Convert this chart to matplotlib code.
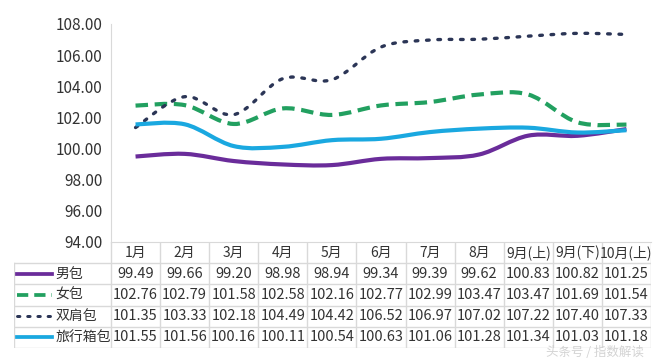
import matplotlib.pyplot as plt
from matplotlib.path import Path
from matplotlib.patches import PathPatch
import numpy as np

plt.rcParams['font.family'] = ['Noto Sans CJK SC', 'DejaVu Sans']

months = ['1月', '2月', '3月', '4月', '5月', '6月', '7月', '8月', '9月(上)', '9月(下)', '10月(上)']
men = [99.49, 99.66, 99.20, 98.98, 98.94, 99.34, 99.39, 99.62, 100.83, 100.82, 101.25]
women = [102.76, 102.79, 101.58, 102.58, 102.16, 102.77, 102.99, 103.47, 103.47, 101.69, 101.54]
backpack = [101.35, 103.33, 102.18, 104.49, 104.42, 106.52, 106.97, 107.02, 107.22, 107.40, 107.33]
luggage = [101.55, 101.56, 100.16, 100.11, 100.54, 100.63, 101.06, 101.28, 101.34, 101.03, 101.18]

names = ['男包', '女包', '双肩包', '旅行箱包']
series = [men, women, backpack, luggage]
colors = ['#6A2C9A', '#22A060', '#2B3556', '#1AA8E0']
styles = [dict(ls='-', lw=3), dict(ls=(0, (3, 1.6)), lw=3), dict(ls=(0, (0.8, 2.6)), lw=2.4,
                                                                dash_capstyle='round'),
          dict(ls='-', lw=3)]


def smooth_path(x, y, t=0.5):
    # excel-like smoothing: bezier with catmull-rom style control points
    x = np.asarray(x, float)
    y = np.asarray(y, float)
    verts = [(x[0], y[0])]
    codes = [Path.MOVETO]
    n = len(x)
    for i in range(n - 1):
        p0 = (x[max(i - 1, 0)], y[max(i - 1, 0)])
        p1 = (x[i], y[i])
        p2 = (x[i + 1], y[i + 1])
        p3 = (x[min(i + 2, n - 1)], y[min(i + 2, n - 1)])
        c1 = (p1[0] + (p2[0] - p0[0]) * t / 3, p1[1] + (p2[1] - p0[1]) * t / 3)
        c2 = (p2[0] - (p3[0] - p1[0]) * t / 3, p2[1] - (p3[1] - p1[1]) * t / 3)
        verts += [c1, c2, p2]
        codes += [Path.CURVE4] * 3
    return Path(verts, codes)


fig = plt.figure(figsize=(6.6, 3.6), dpi=100)
W, H = 660, 360
x0, x1 = 111, 651
ax = fig.add_axes([x0 / W, 1 - 242 / H, (x1 - x0) / W, (242 - 24) / H])

xs = np.arange(len(months))
for s, c, st in zip(series, colors, styles):
    p = PathPatch(smooth_path(xs, s), fill=False, edgecolor=c, lw=st['lw'], ls=st['ls'],
                  capstyle=st.get('dash_capstyle', 'butt'))
    ax.add_patch(p)

ax.set_xlim(-0.5, len(months) - 0.5)
ax.set_ylim(94, 108)
ax.set_yticks(np.arange(94, 108.1, 2))
ax.set_yticklabels([f'{v:.2f}' for v in np.arange(94, 108.1, 2)], fontsize=11, color='#333333')
ax.set_xticks([])
for sp in ['top', 'right']:
    ax.spines[sp].set_visible(False)
ax.spines['left'].set_color('#D9D9D9')
ax.spines['bottom'].set_color('#D9D9D9')
ax.tick_params(axis='y', length=0, pad=6)

# data table below the plot
unit = (x1 - x0) / len(months)
tleft = 14
ext = (x0 - tleft) / unit
tax = fig.add_axes([tleft / W, 1 - 348 / H, (x1 - tleft) / W, (348 - 242) / H])
tax.set_xlim(-0.5 - ext, len(months) - 0.5)
tax.set_ylim(5, 0)
tax.axis('off')
grid = '#D9D9D9'
for i in range(len(months) + 1):
    tax.plot([i - 0.5, i - 0.5], [0, 5], color=grid, lw=1)
tax.plot([-0.5 - ext, -0.5 - ext], [1, 5], color=grid, lw=1)
for r in range(1, 6):
    tax.plot([-0.5 - ext, len(months) - 0.5], [r, r], color=grid, lw=1)
for i, m in enumerate(months):
    tax.text(i, 0.52, m, ha='center', va='center', fontsize=10, color='#333333')
lx = -0.5 - ext
for r, (nm, s, c, st) in enumerate(zip(names, series, colors, styles)):
    yy = r + 1.5
    tax.plot([lx + 0.07, lx + 0.78], [yy, yy], color=c, lw=st['lw'] * 0.9, ls=st['ls'],
             dash_capstyle=st.get('dash_capstyle', 'butt'))
    tax.text(lx + 0.84, yy, nm, ha='left', va='center', fontsize=10, color='#333333')
    for i, v in enumerate(s):
        tax.text(i, yy, f'{v:.2f}', ha='center', va='center', fontsize=10.5, color='#333333')

fig.text(0.975, 1 - 352 / H, '头条号 / 指数解读', ha='right', va='center', fontsize=9,
         color='#C8C8C8', alpha=0.8)

fig.savefig('out.png', dpi=100)
